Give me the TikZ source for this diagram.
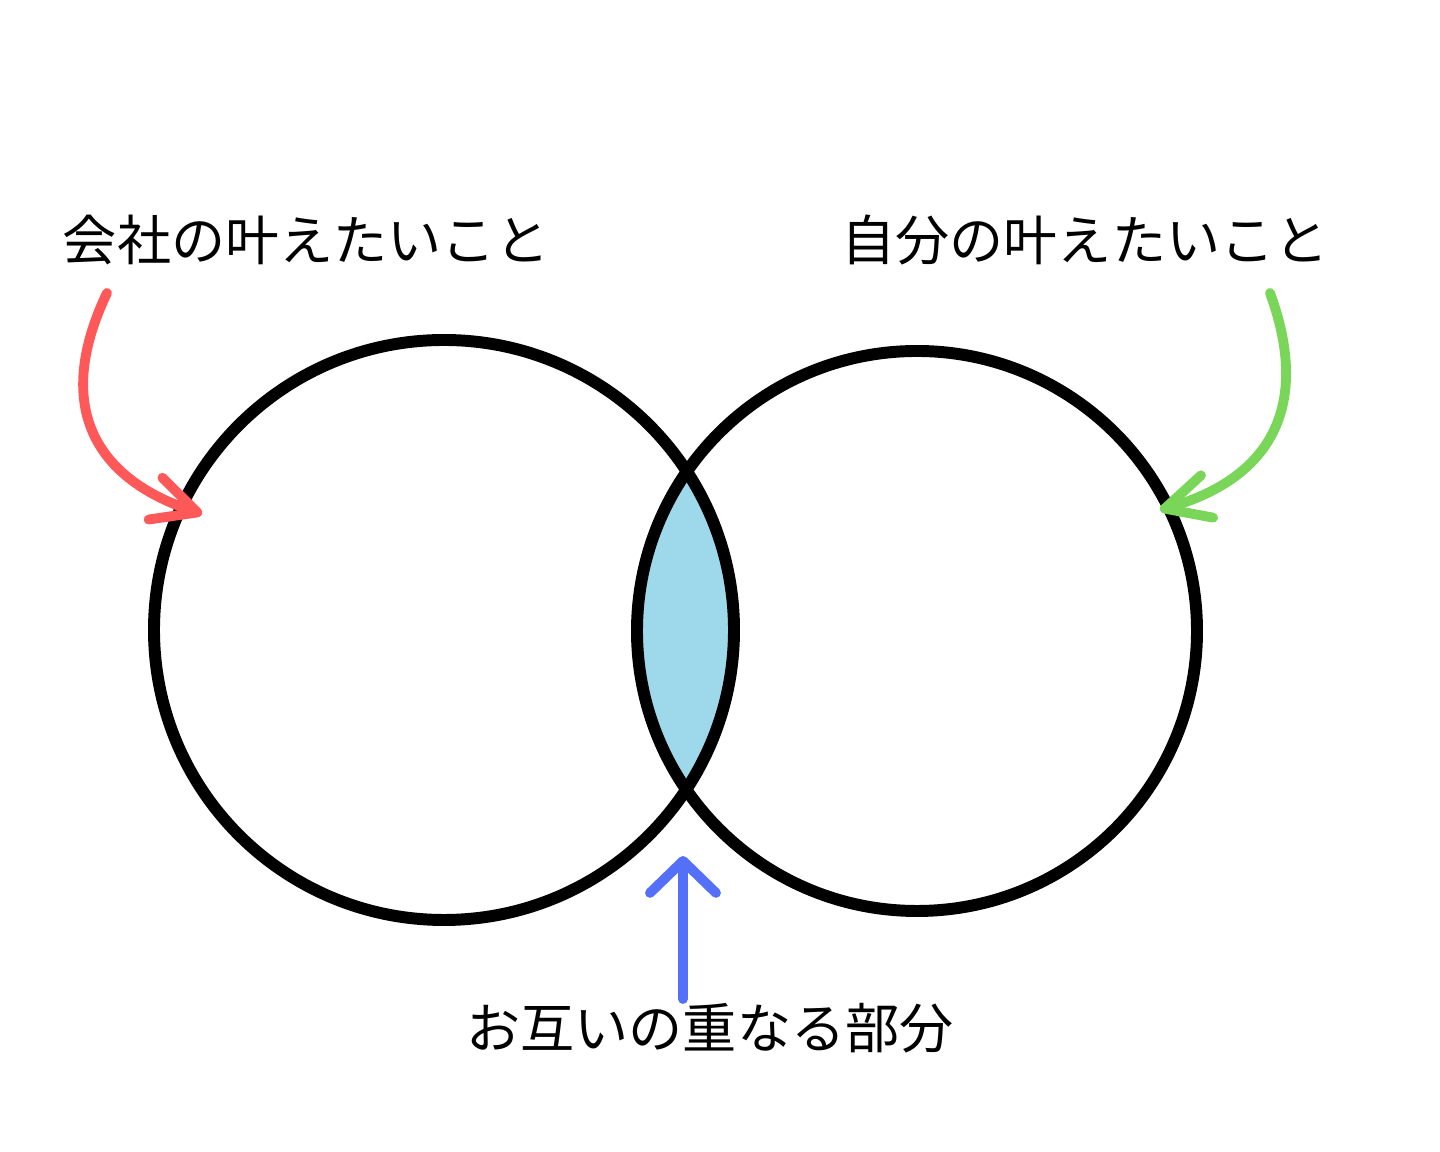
\documentclass[tikz,border=0pt]{standalone}
\usepackage{fontspec}
\newfontfamily\cjk{Noto Sans CJK JP}
\usepackage{xcolor}
\usetikzlibrary{arrows.meta}
\usetikzlibrary{math}
\definecolor{qred}{RGB}{255,88,88}
\definecolor{qgreen}{RGB}{122,214,88}
\definecolor{qblue}{RGB}{84,112,248}
\definecolor{qlens}{RGB}{157,217,234}

\tikzset{
  venn/.style={draw=black, line width=3.4pt},
  pointer/.style={line width=2.8pt, line cap=round},
  sidetip/.style={-{Straight Barb[length=4.4mm, width=4.4mm, round]}},
  uptip/.style={-{Straight Barb[length=3.2mm, width=6.6mm, round]}},
  caption/.style={font=\cjk\fontsize{15.4}{18}\selectfont, inner sep=0pt}
}

\begin{document}
\begin{tikzpicture}
\tikzmath{
\RL=2.9;
\RR=2.8;
}
\useasboundingbox (0,0) rectangle (14.4,11.52);

\coordinate (cL) at (4.44,5.22);
\coordinate (cR) at (9.17,5.21);

\begin{scope}
\clip (cL) circle (\RL);
\fill[qlens] (cR) circle (\RR);
\end{scope}

\draw[venn] (cL) circle (\RL);
\draw[venn] (cR) circle (\RR);

\node[caption] (company) at (3.065,9.12) {会社の叶えたいこと};
\node[caption] (self) at (10.85,9.12) {自分の叶えたいこと};
\node[caption] (overlap) at (7.10,1.24) {お互いの重なる部分};

\coordinate (companyStart) at (1.07,8.59);
\coordinate (companyTip) at (2.02,6.38);
\coordinate (selfStart) at (12.70,8.59);
\coordinate (selfTip) at (11.60,6.42);
\coordinate (overlapStart) at (6.83,1.53);
\coordinate (overlapTip) at (6.83,2.96);

\draw[pointer, sidetip, qred] (companyStart) .. controls (0.55,7.5) and (0.9,6.75) .. (companyTip);
\draw[pointer, sidetip, qgreen] (selfStart) .. controls (13.1,7.5) and (12.75,6.75) .. (selfTip);
\draw[pointer, uptip, qblue] (overlapStart) -- (overlapTip);

\end{tikzpicture}
\end{document}
